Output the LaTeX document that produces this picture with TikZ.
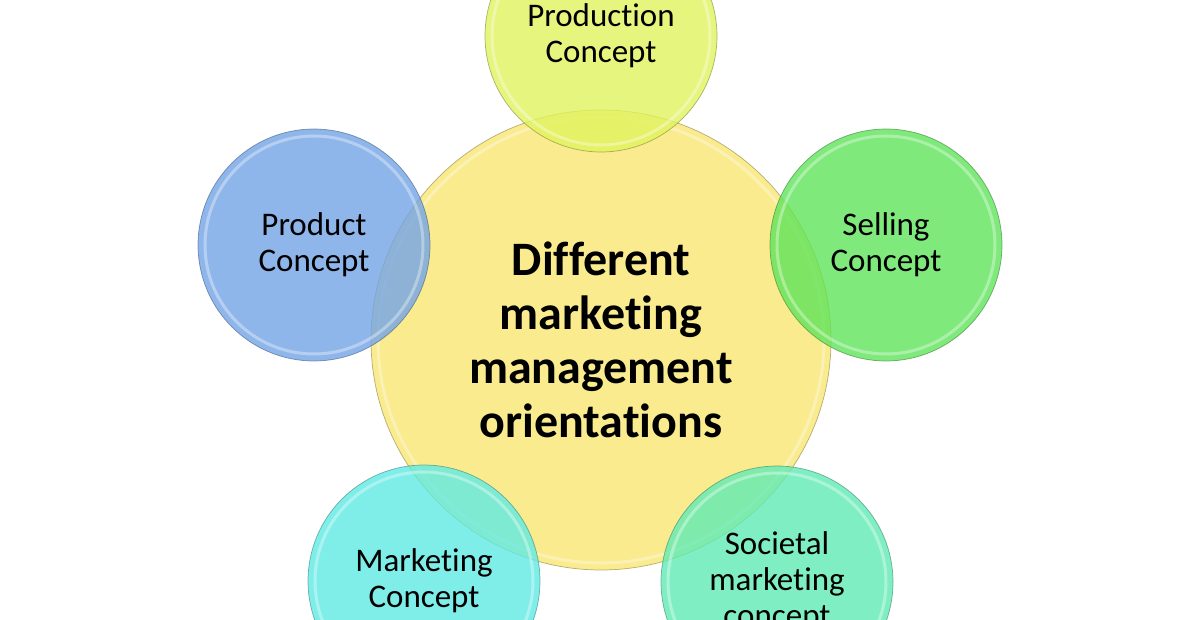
\documentclass[tikz,border=0pt]{standalone}
\usepackage{fontspec}
\setmainfont[Ligatures={NoCommon,NoRare}]{Carlito}
\definecolor{cYel}{RGB}{248,230,114}
\definecolor{cLime}{RGB}{224,243,93}
\definecolor{cBlue}{RGB}{115,164,231}
\definecolor{cGreen}{RGB}{96,228,90}
\definecolor{cCyan}{RGB}{96,234,228}
\definecolor{cMint}{RGB}{96,236,181}
\tikzset{
  bubble/.style={circle, inner sep=0pt, minimum size=232pt, fill=#1, fill opacity=0.8,
    text opacity=1, draw=#1!55!black, draw opacity=0.6, line width=0.7pt,
    align=center, font=\fontsize{33}{36}\selectfont, text=black},
  hub/.style={bubble=#1, minimum size=460pt, font=\fontsize{48}{54}\selectfont\bfseries},
  rim/.style={draw=white, opacity=0.35, line width=3pt}
}
\begin{document}
\begin{tikzpicture}[x=1pt,y=-1pt]
\useasboundingbox (0,0) rectangle (1200,620);
\clip (0,0) rectangle (1200,620);
\fill[white] (0,0) rectangle (1200,620);
\node[hub=cYel] (hub) at (601,340) {Different\\marketing\\management\\orientations};
\draw[rim] (hub.center) circle (223);
\node[bubble=cLime] (prod) at (601,36) {Production\\Concept};
\draw[rim] (prod.center) circle (109);
\node[bubble=cBlue] (prodt) at (314,245) {Product\\Concept};
\draw[rim] (prodt.center) circle (109);
\node[bubble=cGreen] (sell) at (886,245) {Selling\\Concept};
\draw[rim] (sell.center) circle (109);
\node[bubble=cCyan] (mkt) at (424,581) {Marketing\\Concept};
\draw[rim] (mkt.center) circle (109);
\node[bubble=cMint] (soc) at (777,582) {Societal\\marketing\\concept};
\draw[rim] (soc.center) circle (109);
\end{tikzpicture}
\end{document}
